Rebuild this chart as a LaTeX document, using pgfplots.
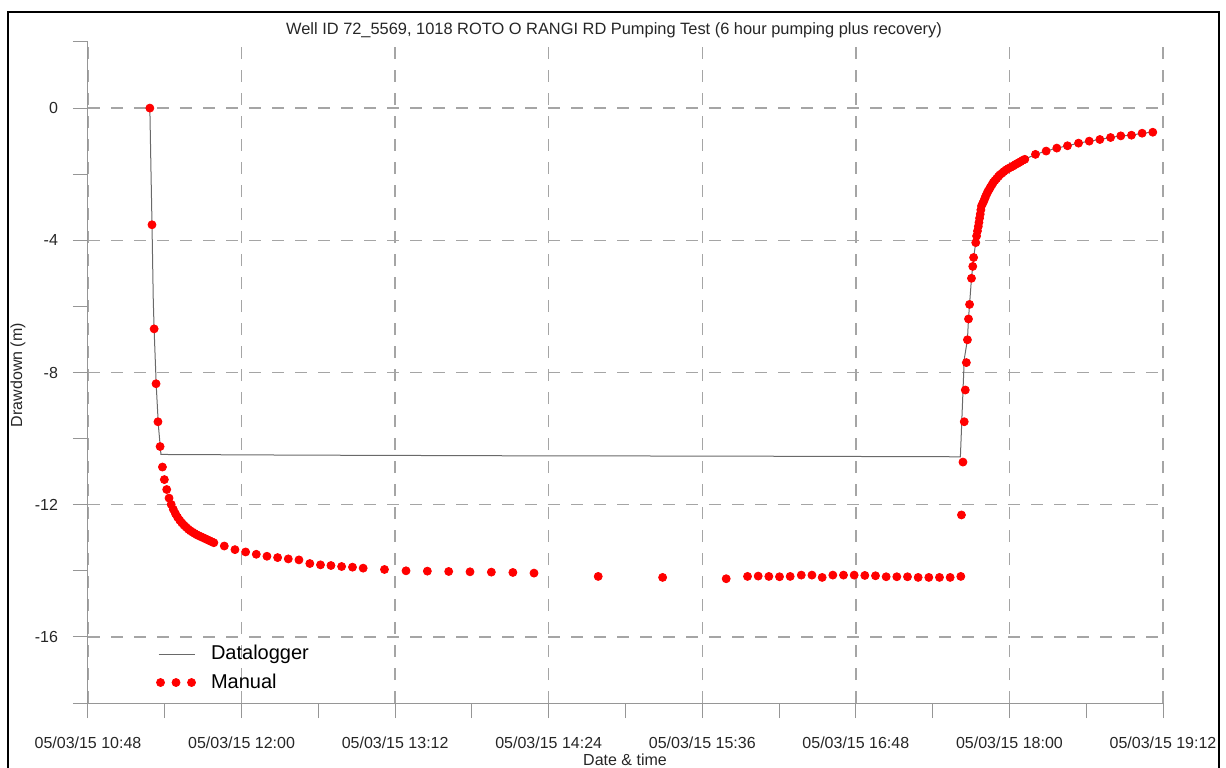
\documentclass[border=0pt]{standalone}
\usepackage{fontspec}
\setmainfont{Liberation Sans}
\usepackage{pgfplots}
\pgfplotsset{compat=1.18}
\definecolor{axgray}{RGB}{150,150,150}
\definecolor{gridgray}{RGB}{165,165,165}
\definecolor{loggray}{RGB}{105,105,105}
\begin{document}
\begin{tikzpicture}
\begin{axis}[
  scale only axis, width=537.5pt, height=330.5pt,
  xmin=0, xmax=504, ymin=-18, ymax=2,
  axis x line=bottom, axis y line=left,
  axis line style={-, axgray, line width=0.5pt},
  tick align=outside,
  major tick length=7.5pt, minor tick length=7.5pt,
  tick style={axgray, line width=0.5pt},
  xtick={0,72,144,216,288,360,432,504},
  minor xtick={36,108,180,252,324,396,468},
  xticklabels={05/03/15 10:48,05/03/15 12:00,05/03/15 13:12,05/03/15 14:24,05/03/15 15:36,05/03/15 16:48,05/03/15 18:00,05/03/15 19:12},
  ytick={-16,-12,-8,-4,0},
  minor ytick={-18,-14,-10,-6,-2,2},
  ymajorgrids, xmajorgrids,
  major grid style={gridgray, line width=0.7pt, dash pattern=on 6pt off 5.5pt},
  /pgf/number format/assume math mode=true,
  ticklabel style={font=\fontsize{8}{10}\selectfont, text=black!85},
  xticklabel style={yshift=-6pt},
  yticklabel style={xshift=-4pt},
  clip=false,
  legend style={at={(rel axis cs:0.063,0.094)}, anchor=north west, draw=none, fill=none,
    font=\fontsize{10}{12}\selectfont, row sep=1.5pt, inner sep=0pt},
  legend cell align=left,
]
\addplot[loggray, line width=0.5pt,
  legend image code/.code={\draw[loggray, line width=0.5pt] (0pt,0pt) -- (18pt,0pt); \path (24pt,0pt);}]
  coordinates {
  (29.0,0) (29.5,-1.8) (30.0,-3.5) (30.6,-5.8) (31.0,-6.7) (32.0,-8.4) (33.0,-9.6) (34.2,-10.48)
  (100,-10.50) (200,-10.52) (300,-10.53) (409.0,-10.55) (410.8,-7.6) (412.3,-7.01)
  (412.8,-6.38) (413.3,-5.94) (414.2,-5.15) (414.8,-4.79) (415.2,-4.52) (416.2,-4.07)
  (417.0,-3.72) (418.0,-3.33) (418.9,-2.96) (420.0,-2.81) (420.9,-2.66) (422.0,-2.51)
  (423.1,-2.39) (424.4,-2.25) (426.0,-2.13) (427.5,-2.02) (429.4,-1.92) (431.4,-1.83)
  (433.8,-1.75) (435.6,-1.68) (437.2,-1.62) (439.2,-1.55) (444.2,-1.40) (449.2,-1.30)
  (454.2,-1.21) (459.2,-1.14) (464.4,-1.06) (469.4,-1.00) (474.4,-0.95) (479.4,-0.89)
  (484.2,-0.84) (489.2,-0.82) (494.2,-0.76) (499.2,-0.73)
  };
\addlegendentry{Datalogger}
\addplot[only marks, mark=*, mark size=2pt, color=red, mark options={draw=red, fill=red},
  legend image code/.code={\fill[red] (1pt,0pt) circle (2pt) (8.75pt,0pt) circle (2pt) (16.5pt,0pt) circle (2pt); \path (24pt,0pt);}]
  coordinates {
  (29.0,0) (30.0,-3.53) (31.0,-6.68) (31.9,-8.34) (32.8,-9.49) (33.8,-10.24) (34.9,-10.86)
  (35.8,-11.24) (36.9,-11.54) (38,-11.80) (39,-11.99) (40,-12.14) (41,-12.27) (42,-12.38)
  (43,-12.47) (44,-12.55) (45,-12.62) (46,-12.68) (47,-12.74) (48,-12.79) (49,-12.83)
  (50,-12.87) (51,-12.91) (52,-12.94) (53,-12.97) (54,-13.00) (55,-13.03) (56,-13.06)
  (57,-13.09) (58,-13.12) (59,-13.15)
  (63.9,-13.25) (68.9,-13.36) (73.9,-13.43) (78.9,-13.50) (83.9,-13.56) (88.9,-13.60)
  (93.9,-13.64) (98.9,-13.67) (104.0,-13.78) (109.0,-13.82) (113.9,-13.84) (118.9,-13.87)
  (124.0,-13.89) (129.0,-13.92) (139.0,-13.96) (149.1,-14.00) (159.1,-14.01) (169.1,-14.02)
  (179.1,-14.03) (189.1,-14.04) (199.2,-14.05) (209.1,-14.07) (239.2,-14.17) (269.4,-14.20)
  (299.2,-14.24) (309.2,-14.17) (314.2,-14.16) (319.2,-14.17) (324.2,-14.18) (329.2,-14.17)
  (334.4,-14.13) (339.4,-14.13) (344.2,-14.20) (349.2,-14.13) (354.2,-14.13) (359.2,-14.13)
  (364.2,-14.14) (369.2,-14.15) (374.2,-14.18) (379.2,-14.18) (384.2,-14.18) (389.2,-14.20)
  (394.2,-14.20) (399.2,-14.20) (404.2,-14.20) (409.2,-14.17)
  (409.5,-12.31) (410.2,-10.71) (410.8,-9.49) (411.3,-8.53) (411.8,-7.70) (412.3,-7.01)
  (412.8,-6.38) (413.3,-5.94) (414.2,-5.15) (414.8,-4.79) (415.2,-4.52) (416.2,-4.07)
  (416.6,-3.87) (417.0,-3.72) (417.4,-3.58) (417.7,-3.46) (418.0,-3.33) (418.3,-3.21)
  (418.6,-3.08) (418.9,-2.96) (419.5,-2.88) (420.0,-2.81) (420.5,-2.73) (420.9,-2.66)
  (421.5,-2.58) (422.0,-2.51) (422.6,-2.45) (423.1,-2.39) (423.8,-2.32) (424.4,-2.25)
  (425.2,-2.19) (426.0,-2.13) (426.8,-2.07) (427.5,-2.02) (428.5,-1.97) (429.4,-1.92)
  (430.4,-1.87) (431.4,-1.83) (432.6,-1.79) (433.8,-1.75) (434.7,-1.71) (435.6,-1.68)
  (436.4,-1.65) (437.2,-1.62) (438.2,-1.58) (439.2,-1.55) (444.2,-1.40) (449.2,-1.30)
  (454.2,-1.21) (459.2,-1.14) (464.4,-1.06) (469.4,-1.00) (474.4,-0.95) (479.4,-0.89)
  (484.2,-0.84) (489.2,-0.82) (494.2,-0.76) (499.2,-0.73)
  };
\addlegendentry{Manual}
\end{axis}
\node[font=\fontsize{8.2}{10}\selectfont, text=black!85] at (263pt,336.5pt) {Well ID 72\_5569, 1018 ROTO O RANGI RD Pumping Test (6 hour pumping plus recovery)};
\node[rotate=90, font=\fontsize{8}{10}\selectfont, text=black!85] at (-35pt,164pt) {Drawdown (m)};
\node[font=\fontsize{8}{10}\selectfont, text=black!85] at (268.5pt,-28.5pt) {Date \& time};
\draw[line width=0.8pt] (-40pt,-50pt) -- (-40pt,345.5pt) -- (565.5pt,345.5pt) -- (565.5pt,-50pt);
\pgfresetboundingbox
\useasboundingbox (-44pt,-32pt) rectangle (569pt,351.5pt);
\end{tikzpicture}
\end{document}
